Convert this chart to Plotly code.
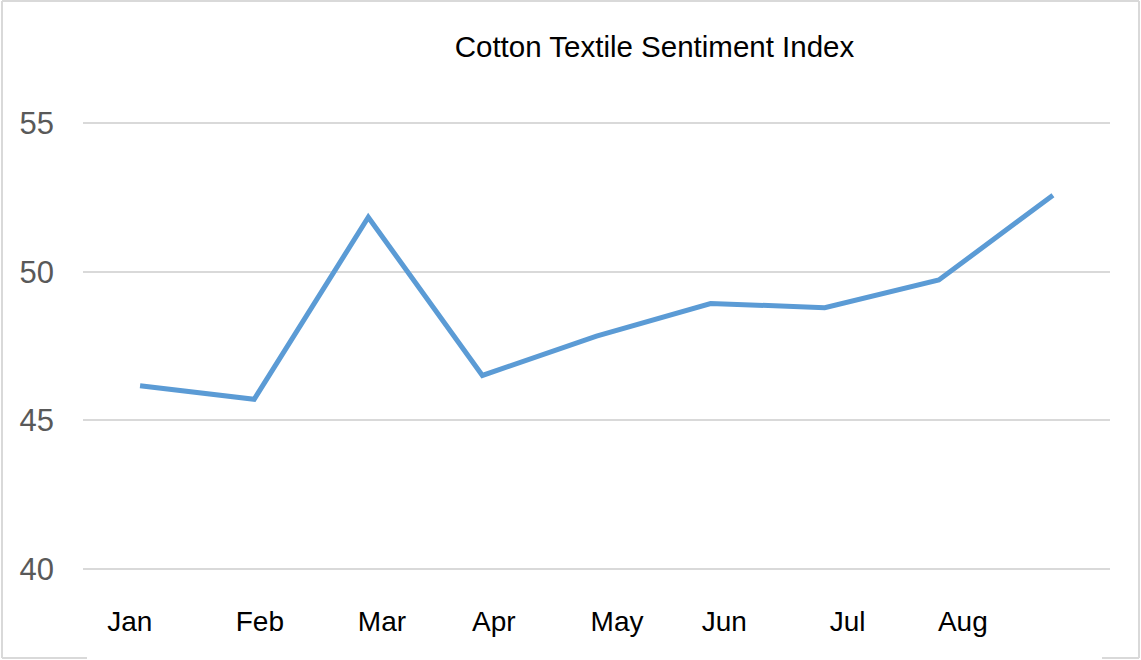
import plotly.graph_objects as go

# Monthly sentiment readings (the final reading carries no month label)
months = ["Jan", "Feb", "Mar", "Apr", "May", "Jun", "Jul", "Aug"]
index_values = [46.16, 45.71, 51.83, 46.51, 47.83, 48.93, 48.79, 49.72, 52.57]
y_ticks = [40, 45, 50, 55]

# Horizontal nudge of each month label relative to its point (in category units)
label_shift = [-0.09, 0.05, 0.12, 0.10, 0.18, 0.12, 0.20, 0.21]

W, H = 1141, 660
M_L, M_R, M_T, M_B = 83, 31, 122, 90
Y_PAD = 0.034  # small headroom so the 40 and 55 grid lines are drawn

x_pos = list(range(len(index_values)))
tick_pos = [i + s for i, s in enumerate(label_shift)]

fig = go.Figure(
    go.Scatter(
        x=x_pos,
        y=index_values,
        mode="lines",
        line=dict(color="#5B9BD5", width=5),
        hoverinfo="skip",
    )
)

FONT = "Liberation Sans, Arial, sans-serif"

fig.update_layout(
    width=W,
    height=H,
    margin=dict(l=M_L, r=M_R, t=M_T, b=M_B),
    paper_bgcolor="white",
    plot_bgcolor="white",
    showlegend=False,
    title=dict(
        text="Cotton Textile Sentiment Index",
        x=654.5 / W,
        xanchor="center",
        y=1 - 47 / H,
        yanchor="middle",
        font=dict(family=FONT, size=29.5, color="#000000"),
    ),
    xaxis=dict(
        range=[-0.5, len(index_values) - 0.5],
        tickmode="array",
        tickvals=tick_pos,
        ticktext=months,
        showgrid=False,
        zeroline=False,
        showline=False,
        ticks="",
        ticklabelstandoff=32,
        tickfont=dict(family=FONT, size=28, color="#000000"),
        fixedrange=True,
    ),
    yaxis=dict(
        range=[y_ticks[0] - Y_PAD, y_ticks[-1] + Y_PAD],
        tickmode="array",
        tickvals=y_ticks,
        ticktext=[str(v) for v in y_ticks],
        showgrid=True,
        gridcolor="#D9D9D9",
        gridwidth=1.5,
        zeroline=False,
        showline=False,
        ticks="",
        ticklabelstandoff=28,
        tickfont=dict(family=FONT, size=31, color="#595959"),
        fixedrange=True,
    ),
)

# Light outer frame of the chart area
pw, ph = W - M_L - M_R, H - M_T - M_B
def px(x):
    return (x - M_L) / pw
def py(y):
    return (H - M_B - y) / ph

frame = dict(color="#D9D9D9", width=2)
for x0, y0, x1, y1 in [
    (2, 1, 1139, 1),        # top
    (2, 1, 2, 658),         # left
    (1139, 1, 1139, 658),   # right
    (2, 658, 87, 658),      # bottom, left part
    (1102, 658, 1139, 658), # bottom, right part
]:
    fig.add_shape(
        type="line", xref="paper", yref="paper",
        x0=px(x0), y0=py(y0), x1=px(x1), y1=py(y1),
        line=frame, layer="below",
    )

fig.write_html("out.html", config={"displayModeBar": False})
